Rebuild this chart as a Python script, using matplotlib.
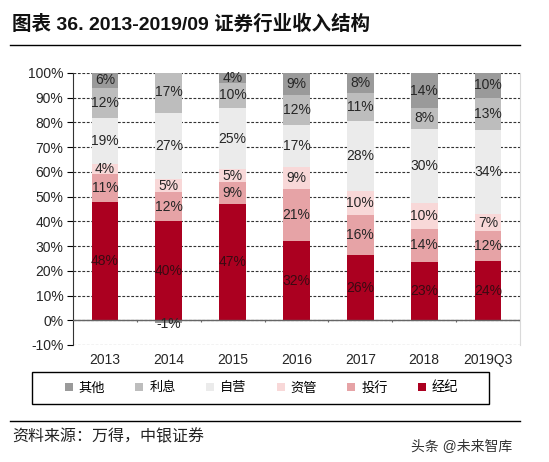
import numpy as np
import matplotlib
matplotlib.use('Agg')
import matplotlib.pyplot as plt
from matplotlib.lines import Line2D
from matplotlib.patches import Rectangle

plt.rcParams['font.family'] = ['Liberation Sans', 'Noto Sans CJK SC', 'DejaVu Sans']

years = ['2013', '2014', '2015', '2016', '2017', '2018', '2019Q3']
# 由下到上的堆叠顺序
series = ['经纪', '投行', '资管', '自营', '利息', '其他']
jingji = [48, 40, 47, 32, 26.3, 23.4, 24]
touhang = [11, 12, 9, 21, 16.4, 13.7, 12]
ziguan = [4, 5, 5, 9, 9.7, 10.4, 7]
ziying = [19, 27, 25, 17, 28.2, 29.9, 34]
lixi = [12, 17, 10, 12, 11.4, 8.4, 13]
qita = [6, -1, 4, 9, 8.0, 14.2, 10]
colors = ['#ab0020', '#e6a3a6', '#f8d8d8', '#ebebeb', '#bdbdbd', '#9a9a9a']

data = [jingji, touhang, ziguan, ziying, lixi, qita]

fig = plt.figure(figsize=(5.49, 4.62), dpi=100)
ax = fig.add_axes([73 / 549, 1 - 345 / 462, 447 / 549, 272 / 462])

x = np.arange(len(years))
w = 0.42
pos_bottom = np.zeros(len(years))
neg_bottom = np.zeros(len(years))
handles = []
for name, vals, c in zip(series, data, colors):
    vals = np.array(vals, dtype=float)
    bottom = np.where(vals >= 0, pos_bottom, neg_bottom)
    b = ax.bar(x, vals, w, bottom=bottom, color=c, label=name, zorder=2)
    handles.append(b)
    for xi, v, bt in zip(x, vals, bottom):
        lab_y = bt + v / 2 if v >= 0 else bt + v - 0.6
        tc = '#3a0a12' if c == colors[0] else '#262626'
        ax.text(xi, lab_y, f'{round(v):d}%', ha='center', va='center',
                fontsize=10, color=tc, zorder=4)
    pos_bottom = np.where(vals >= 0, pos_bottom + vals, pos_bottom)
    neg_bottom = np.where(vals < 0, neg_bottom + vals, neg_bottom)

ax.set_xlim(-0.5, len(years) - 0.5)
ax.set_ylim(-10, 100)
yt = np.arange(-10, 101, 10)
ax.set_yticks(yt)
ax.set_yticklabels([f'{v}%' for v in yt], fontsize=10, color='#262626')
ax.set_xticks(x)
ax.set_xticklabels(years, fontsize=10, color='#262626')
ax.tick_params(axis='x', length=0, pad=6)
ax.tick_params(axis='y', length=4, width=0.8, pad=3)

for v in yt:
    ax.axhline(v, color='#333333', lw=0.8, ls=(0, (2.5, 1.5)), zorder=1)
ax.axhline(0, color='#666666', lw=1.0, zorder=3)
ax.vlines(np.arange(0.5, len(years)), -0.6, 0, color='#666666', lw=0.8, zorder=3)

ax.spines['top'].set_visible(False)
ax.spines['bottom'].set_visible(False)
ax.spines['left'].set_color('#333333')
ax.spines['right'].set_color('#d9d9d9')

# 图例
box = (32 / 549, 1 - 404 / 462, 457 / 549, 32 / 462)
fig.add_artist(Rectangle(box[:2], box[2], box[3], transform=fig.transFigure,
                         fill=False, edgecolor='#000000', lw=1.0))
fig.legend(handles[::-1], series[::-1], loc='center', ncol=6,
           bbox_to_anchor=(box[0] + box[2] / 2 + 0.002, box[1] + box[3] / 2),
           frameon=False, handlelength=0.6, handleheight=0.6, handletextpad=0.45,
           columnspacing=2.3, borderaxespad=0, fontsize=9.5)

fig.text(12 / 549, 1 - 24 / 462, '图表 36. 2013-2019/09 证券行业收入结构',
         fontsize=14, fontweight='bold', va='center', ha='left', color='#111111')
fig.add_artist(Line2D([10 / 549, 520 / 549], [1 - 45 / 462] * 2, color='#000000', lw=1))
fig.add_artist(Line2D([10 / 549, 520 / 549], [1 - 421 / 462] * 2, color='#000000', lw=1))
fig.text(12 / 549, 1 - 437 / 462, '资料来源：万得，中银证券', fontsize=11.5,
         style='italic', va='center', ha='left', color='#222222')
fig.text(512 / 549, 1 - 447 / 462, '头条 @未来智库', fontsize=10,
         va='center', ha='right', color='#333333')

fig.savefig('out.png', dpi=100)
